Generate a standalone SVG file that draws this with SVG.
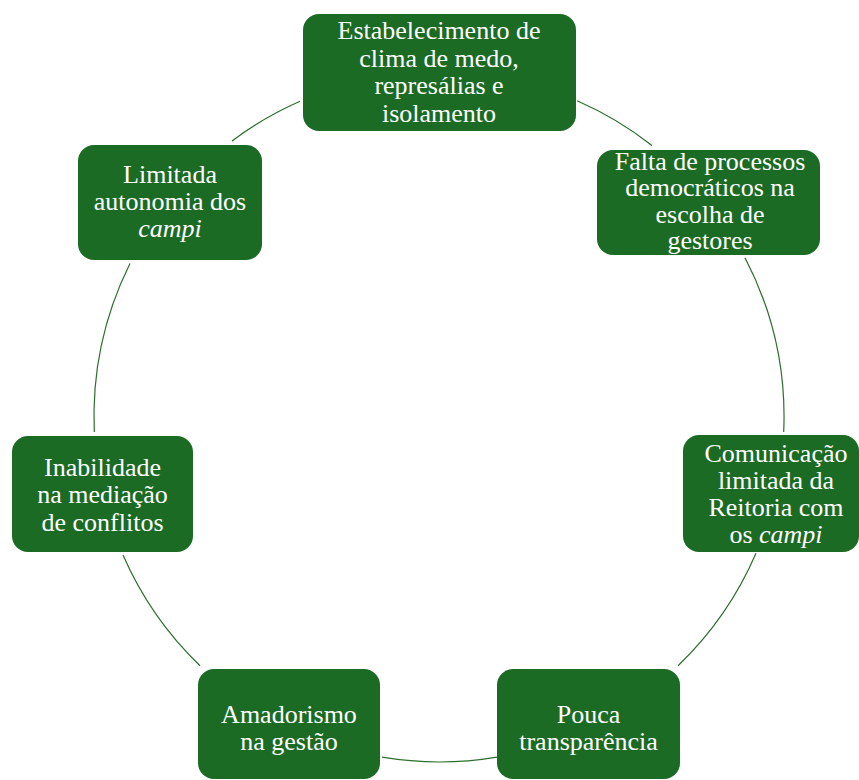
<svg xmlns="http://www.w3.org/2000/svg" width="859" height="780" viewBox="0 0 859 780">
<style>
.box{fill:#1c6b24;}
.t{font-family:"Liberation Serif","Times New Roman",serif;font-size:26px;fill:#ffffff;text-anchor:middle;}
.i{font-style:italic;}
.c{fill:none;stroke:#2a6f2c;stroke-width:1.2;}
</style>
<rect width="859" height="780" fill="#ffffff"/>
<g id="connectors">
<path class="c" d="M577.1,100.8 A345,345 0 0 1 651.9,145.5"/>
<path class="c" d="M745,257.7 A345,345 0 0 1 783.7,432"/>
<path class="c" d="M756,553.3 A345,345 0 0 1 678,665.8"/>
<path class="c" d="M497,757.1 A345,345 0 0 1 382.1,757.2"/>
<path class="c" d="M200,665.8 A345,345 0 0 1 123,555.1"/>
<path class="c" d="M94.3,432 A345,345 0 0 1 130,263.6"/>
<path class="c" d="M232,141 A345,345 0 0 1 300,101.3"/>
</g>
<g id="n1">
<rect class="box" x="303" y="14" width="273" height="117" rx="16"/>
<text class="t" x="439" y="39">Estabelecimento de</text>
<text class="t" x="439" y="67">clima de medo,</text>
<text class="t" x="439" y="94">represálias e</text>
<text class="t" x="439" y="122">isolamento</text>
</g>
<g id="n2">
<rect class="box" x="597" y="150" width="223" height="105" rx="16"/>
<text class="t" x="710" y="170">Falta de processos</text>
<text class="t" x="710" y="196">democráticos na</text>
<text class="t" x="710" y="223">escolha de</text>
<text class="t" x="710" y="249">gestores</text>
</g>
<g id="n3">
<rect class="box" x="683" y="435" width="176" height="117" rx="16"/>
<text class="t" x="776" y="462">Comunicação</text>
<text class="t" x="776" y="489">limitada da</text>
<text class="t" x="776" y="516">Reitoria com</text>
<text class="t" x="776" y="543">os <tspan class="i">campi</tspan></text>
</g>
<g id="n4">
<rect class="box" x="497" y="669" width="183" height="110" rx="16"/>
<text class="t" x="588.5" y="723">Pouca</text>
<text class="t" x="588.5" y="750">transparência</text>
</g>
<g id="n5">
<rect class="box" x="198" y="669" width="182" height="110" rx="16"/>
<text class="t" x="289" y="723">Amadorismo</text>
<text class="t" x="289" y="750">na gestão</text>
</g>
<g id="n6">
<rect class="box" x="12" y="436" width="181" height="116" rx="16"/>
<text class="t" x="102.5" y="476">Inabilidade</text>
<text class="t" x="102.5" y="503">na mediação</text>
<text class="t" x="102.5" y="531">de conflitos</text>
</g>
<g id="n7">
<rect class="box" x="78" y="145" width="184" height="115" rx="16"/>
<text class="t" x="170" y="183">Limitada</text>
<text class="t" x="170" y="210">autonomia dos</text>
<text class="t i" x="170" y="237">campi</text>
</g>
</svg>
